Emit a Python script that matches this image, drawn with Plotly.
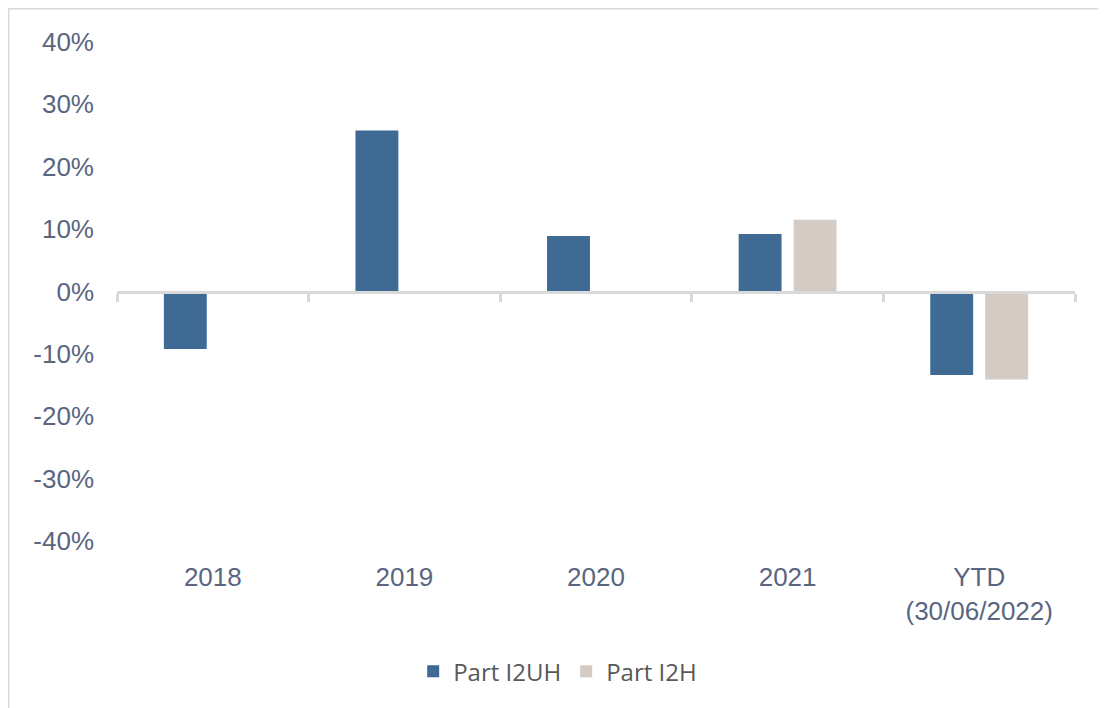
import plotly.graph_objects as go

categories = ["2018", "2019", "2020", "2021", "YTD<br>(30/06/2022)"]
part_i2uh = [-0.092, 0.258, 0.089, 0.092, -0.134]
part_i2h = [None, None, None, 0.115, -0.141]
y_ticks = [-0.4, -0.3, -0.2, -0.1, 0.0, 0.1, 0.2, 0.3, 0.4]
y_tick_labels = ["-40%", "-30%", "-20%", "-10%", "0%", "10%", "20%", "30%", "40%"]

BLUE = "#3E6A94"
BEIGE = "#D3CBC4"
GRID = "#D9D9D9"
TICK_COLOR = "#5A6680"

fig = go.Figure()
fig.add_trace(go.Bar(x=categories, y=part_i2uh, name="Part I2UH",
                     marker=dict(color=BLUE, line=dict(width=0))))
fig.add_trace(go.Bar(x=categories, y=part_i2h, name="Part I2H",
                     marker=dict(color=BEIGE, line=dict(width=0))))
# helper trace so the zero-line axis knows the categories
fig.add_trace(go.Scatter(x=categories, y=[0] * len(categories), xaxis="x2",
                         mode="markers", marker=dict(opacity=0),
                         showlegend=False, hoverinfo="skip"))

fig.update_layout(
    width=1098, height=700,
    margin=dict(l=109, r=31, t=34, b=167),
    paper_bgcolor="white", plot_bgcolor="white",
    barmode="group", bargap=0.426, bargroupgap=0.22,
    font=dict(family="Liberation Sans, Arial, sans-serif", color=TICK_COLOR, size=26),
    xaxis=dict(type="category", showline=False, ticks="", showgrid=False,
               zeroline=False, tickfont=dict(size=26, color=TICK_COLOR),
               ticklabelstandoff=18, range=[-0.5, 4.5]),
    xaxis2=dict(type="category", overlaying="x", anchor="free", position=0.5,
                side="bottom", showline=True, linecolor=GRID, linewidth=3,
                ticks="outside", tickson="boundaries", ticklen=8, tickwidth=3,
                tickcolor=GRID, showticklabels=False, showgrid=False,
                zeroline=False, range=[-0.5, 4.5]),
    yaxis=dict(range=[-0.4, 0.4], tickvals=y_ticks, ticktext=y_tick_labels,
               showgrid=False, zeroline=False, showline=False, ticks="",
               tickfont=dict(size=26, color=TICK_COLOR), ticklabelstandoff=22),
    legend=dict(orientation="h", x=0.46, xanchor="center", y=-0.262,
                yanchor="middle", font=dict(family="Open Sans, Noto Sans, sans-serif",
                                            size=24, color="#595959"),
                itemsizing="constant", traceorder="normal"),
    shapes=[dict(type="rect", xref="paper", yref="paper",
                 x0=-0.1138, x1=1.2, y0=-0.6, y1=1.0681,
                 line=dict(color=GRID, width=3), layer="below")],
    showlegend=True,
)

fig.write_html("out.html")
